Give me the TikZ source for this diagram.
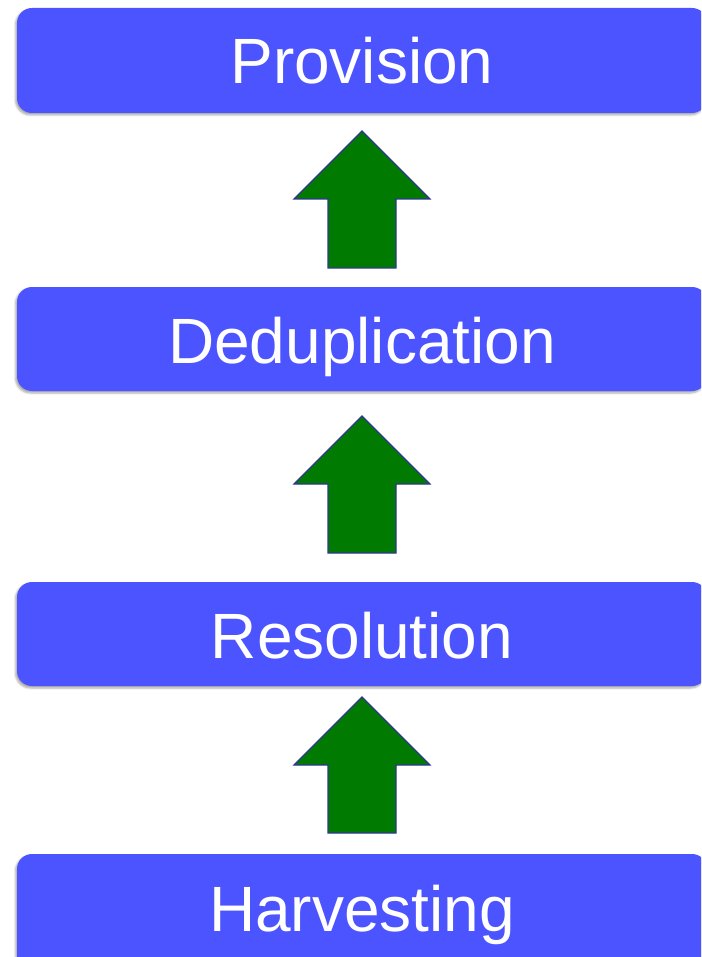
\documentclass[tikz,border=0pt]{standalone}
\usepackage{fontspec}
\setmainfont{Liberation Sans}
\usetikzlibrary{shadows.blur}
\definecolor{boxblue}{RGB}{76,84,255}
\definecolor{arrgreen}{RGB}{0,122,0}
\definecolor{arredge}{RGB}{45,55,140}
\begin{document}
\begin{tikzpicture}[x=1pt,y=-1pt,
  stage/.style={fill=boxblue, rounded corners=15pt,
    blur shadow={shadow xshift=-1.5pt, shadow yshift=-2pt, shadow blur radius=2pt, shadow opacity=35}},
  label/.style={anchor=base, text=white, font=\fontsize{64}{64}\selectfont, inner sep=0pt},
  uparrow/.style={fill=arrgreen, draw=arredge, line width=1.2pt, line join=miter}]
\useasboundingbox (0,0) rectangle (701,957);
\begin{scope}
\clip (0,0) rectangle (701,957);
\path[stage] (17,8) rectangle (707,113);
\path[stage] (17,287) rectangle (707,391);
\path[stage] (17,582) rectangle (707,686);
\path[stage] (17,854) rectangle (707,980);
\end{scope}
\node[label] (provision) at (362,84) {Provision};
\node[label] (dedup) at (362,363) {Deduplication};
\node[label] (resolution) at (362,658) {Resolution};
\node[label] (harvest) at (362,931) {Harvesting};
\foreach \t/\b/\e in {131/199/268, 416/484/553, 697/765/833}{
  \draw[uparrow] (362,\t) -- (430,\b) -- (396,\b) -- (396,\e) -- (328,\e) -- (328,\b) -- (294,\b) -- cycle;
}
\end{tikzpicture}
\end{document}
